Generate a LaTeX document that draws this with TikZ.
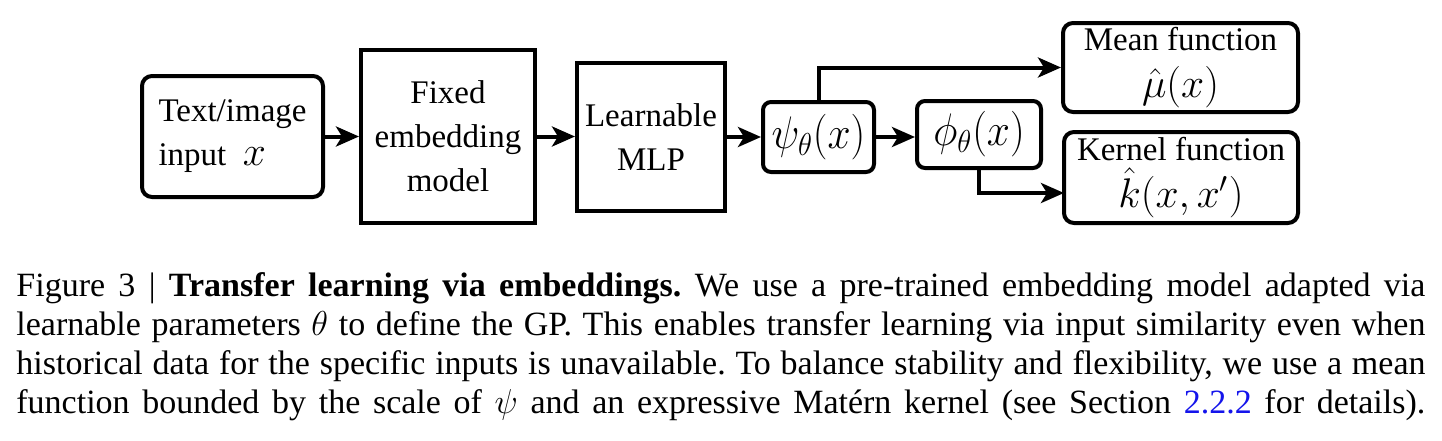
\documentclass[tikz,border=0pt]{standalone}
\usepackage{fontspec}
\setmainfont{Liberation Serif}
\usetikzlibrary{arrows.meta}
\definecolor{linkblue}{RGB}{20,20,235}
\frenchspacing
\begin{document}
\begin{tikzpicture}[x=0.5pt,y=-0.5pt,
  box/.style={draw,line width=2pt,inner sep=0pt,align=center,font=\fontsize{16.5}{22}\selectfont},
  rbox/.style={box,rounded corners=5pt},
  sbox/.style={box,rounded corners=4pt},
  arr/.style={line width=2pt,-{Stealth[length=11.5pt,width=10pt,inset=3pt]}},
  captext/.style={anchor=base west,inner sep=0pt,font=\fontsize{17}{19.5}\selectfont}]
\useasboundingbox (0,0) rectangle (1442,440);
\node[rbox,minimum width=90.5pt,minimum height=60.5pt,align=left] (in) at (232.5,136.5)
  {Text/image\\input\enspace{\fontsize{20}{22}\selectfont$x$}};
\node[box,minimum width=87pt,minimum height=86.5pt] (fixed) at (448,136.5)
  {Fixed\\embedding\\model};
\node[box,minimum width=74pt,minimum height=74pt] (mlp) at (651,137)
  {Learnable\\MLP};
\node[sbox,minimum width=55.5pt,minimum height=35pt,font=\fontsize{22.5}{24}\selectfont] (psi) at (818.5,137)
  {\scalebox{1}[1.1]{$\psi_\theta(x)$}};
\node[sbox,minimum width=62pt,minimum height=33.5pt,font=\fontsize{22.5}{24}\selectfont] (phi) at (979,134.5)
  {\scalebox{1}[1.1]{$\phi_\theta(x)$}};
\node[rbox,minimum width=117.5pt,minimum height=44.5pt] (mean) at (1180.5,67.5)
  {Mean function\\[1.5pt]{\fontsize{19.5}{22}\selectfont$\hat{\mu}(x)$}};
\node[rbox,minimum width=117pt,minimum height=45.5pt] (kern) at (1181,177.5)
  {Kernel function\\[1.5pt]{\fontsize{19.5}{22}\selectfont$\hat{k}(x,x')$}};
\coordinate (kin) at (1064,193);
\draw[arr] (in.east) -- (fixed.west);
\draw[arr] (fixed.east) -- (fixed.east -| mlp.west);
\draw[arr] (mlp.east) -- (psi.west);
\draw[arr] (psi.east) -- (psi.east -| phi.west);
\draw[arr] (psi.north) |- (mean.west);
\draw[arr] (phi.south) |- (kin);
\node[captext] (c1) at (16,296) {\makebox[704.5pt][s]{Figure 3 | \textbf{Transfer learning via embeddings.} We use a pre-trained embedding model adapted via}};
\node[captext] (c2) at (16,335) {\makebox[704.5pt][s]{learnable parameters $\theta$ to define the GP. This enables transfer learning via input similarity even when}};
\node[captext] (c3) at (16,374) {\makebox[704.5pt][s]{historical data for the specific inputs is unavailable. To balance stability and flexibility, we use a mean}};
\node[captext] (c4) at (16,413) {\makebox[704.5pt][s]{function bounded by the scale of $\psi$ and an expressive Matérn kernel (see Section \textcolor{linkblue}{2.2.2} for details).}};
\end{tikzpicture}
\end{document}
